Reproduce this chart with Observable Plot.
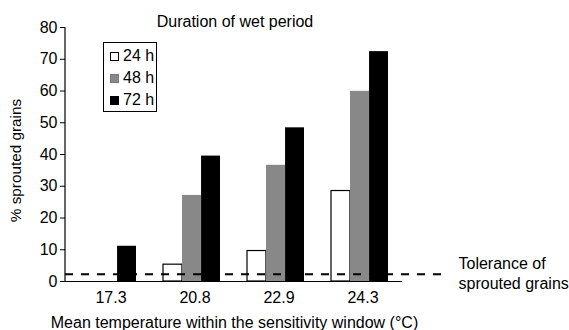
<!DOCTYPE html>
<html>
<head>
<meta charset="utf-8">
<script src="https://cdn.jsdelivr.net/npm/d3@7"></script>
<script src="https://cdn.jsdelivr.net/npm/@observablehq/plot@0.6"></script>
<style>
  html, body { margin: 0; padding: 0; background: #fff; }
  #wrap { position: relative; width: 569px; height: 330px; font-family: "Liberation Sans", Arial, sans-serif; }
  #legend { position: absolute; left: 103px; top: 42px; width: 52px; height: 66px; border: 1px solid #000; background: #fff; padding-top: 2px; box-sizing: content-box; }
  #legend .row { height: 22px; line-height: 22px; font-size: 16px; color: #000; display: flex; align-items: center; }
  #legend .sw { width: 7px; height: 7px; margin-left: 6px; margin-right: 4px; border: 1px solid #000; }
</style>
</head>
<body>
<div id="wrap"></div>
<script>
const temperatures = ["17.3", "20.8", "22.9", "24.3"];
const durations = ["24 h", "48 h", "72 h"];
const sprouted24h = [0, 5.3, 9.6, 28.5];
const sprouted48h = [0, 27.1, 36.6, 59.9];
const sprouted72h = [11.1, 39.5, 48.4, 72.4];
const toleranceLevel = 2.3;
const yTicks = [0, 10, 20, 30, 40, 50, 60, 70, 80];
const chartTitle = "Duration of wet period";
const xTitle = "Mean temperature within the sensitivity window (\u00B0C)";
const yTitle = "% sprouted grains";
const toleranceLabel = "Tolerance of\nsprouted grains";

const fills = ["#ffffff", "#888888", "#000000"];
const strokes = ["#000000", "#777777", "#000000"];
const series = [sprouted24h, sprouted48h, sprouted72h];

const rows = [];
series.forEach((vals, s) => temperatures.forEach((t, i) => rows.push({temp: t, duration: durations[s], value: vals[i]})));

const third = 57.1 / 3;
const barMarks = durations.map((d, s) =>
  Plot.barY(rows.filter(r => r.duration === d), {
    x: "temp", y: "value",
    fill: fills[s],
    stroke: s === 0 ? "#000" : "none",
    strokeWidth: 1.2,
    insetLeft: s * third,
    insetRight: (2 - s) * third
  })
);

const yAxisLine = (index, scales, values, dims) => {
  const l = document.createElementNS("http://www.w3.org/2000/svg", "line");
  l.setAttribute("x1", dims.marginLeft);
  l.setAttribute("x2", dims.marginLeft);
  l.setAttribute("y1", scales.y(80));
  l.setAttribute("y2", scales.y(0));
  l.setAttribute("stroke", "#000");
  l.setAttribute("stroke-width", 1.2);
  return l;
};

const chart = Plot.plot({
  width: 569,
  height: 330,
  marginLeft: 65,
  marginRight: 124,
  marginTop: 27,
  marginBottom: 49,
  style: { fontFamily: "Liberation Sans, Arial, sans-serif", fontSize: "16px", color: "#000", background: "#fff" },
  x: { type: "band", domain: temperatures, range: [66, 402], paddingInner: 0.32, paddingOuter: 0.16 },
  y: { domain: [0, 80] },
  marks: [
    ...barMarks,
    Plot.ruleY([0], { stroke: "#000", strokeWidth: 1.2, insetRight: 43 }),
    yAxisLine,
    Plot.ruleY([toleranceLevel], { stroke: "#000", strokeWidth: 2, strokeDasharray: "8,8" }),
    Plot.axisY({ ticks: yTicks, tickSize: 5, tickPadding: 3, label: null, fontSize: 16 }),
    Plot.axisX({ tickSize: 0, tickPadding: 10, label: null, fontSize: 16, dx: 3 }),
    Plot.text([toleranceLabel], { y: toleranceLevel, frameAnchor: "right", dx: 13, dy: -2, textAnchor: "start", lineAnchor: "middle", lineHeight: 1.25, fontSize: 16 }),
    Plot.text([chartTitle], { frameAnchor: "top", dx: -20.5, dy: -6, lineAnchor: "middle", fontSize: 16 }),
    Plot.text([xTitle], { frameAnchor: "bottom", dx: -21, dy: 41, lineAnchor: "middle", fontSize: 16 }),
    Plot.text([yTitle], { frameAnchor: "left", dx: -49, dy: 6, rotate: -90, textAnchor: "middle", lineAnchor: "middle", fontSize: 15.3 })
  ]
});

const wrap = document.getElementById("wrap");
wrap.appendChild(chart);

const legend = document.createElement("div");
legend.id = "legend";
durations.forEach((d, s) => {
  const row = document.createElement("div");
  row.className = "row";
  const sw = document.createElement("span");
  sw.className = "sw";
  sw.style.background = fills[s];
  sw.style.borderColor = strokes[s];
  const tx = document.createElement("span");
  tx.textContent = d;
  row.appendChild(sw);
  row.appendChild(tx);
  legend.appendChild(row);
});
wrap.appendChild(legend);
</script>
</body>
</html>
